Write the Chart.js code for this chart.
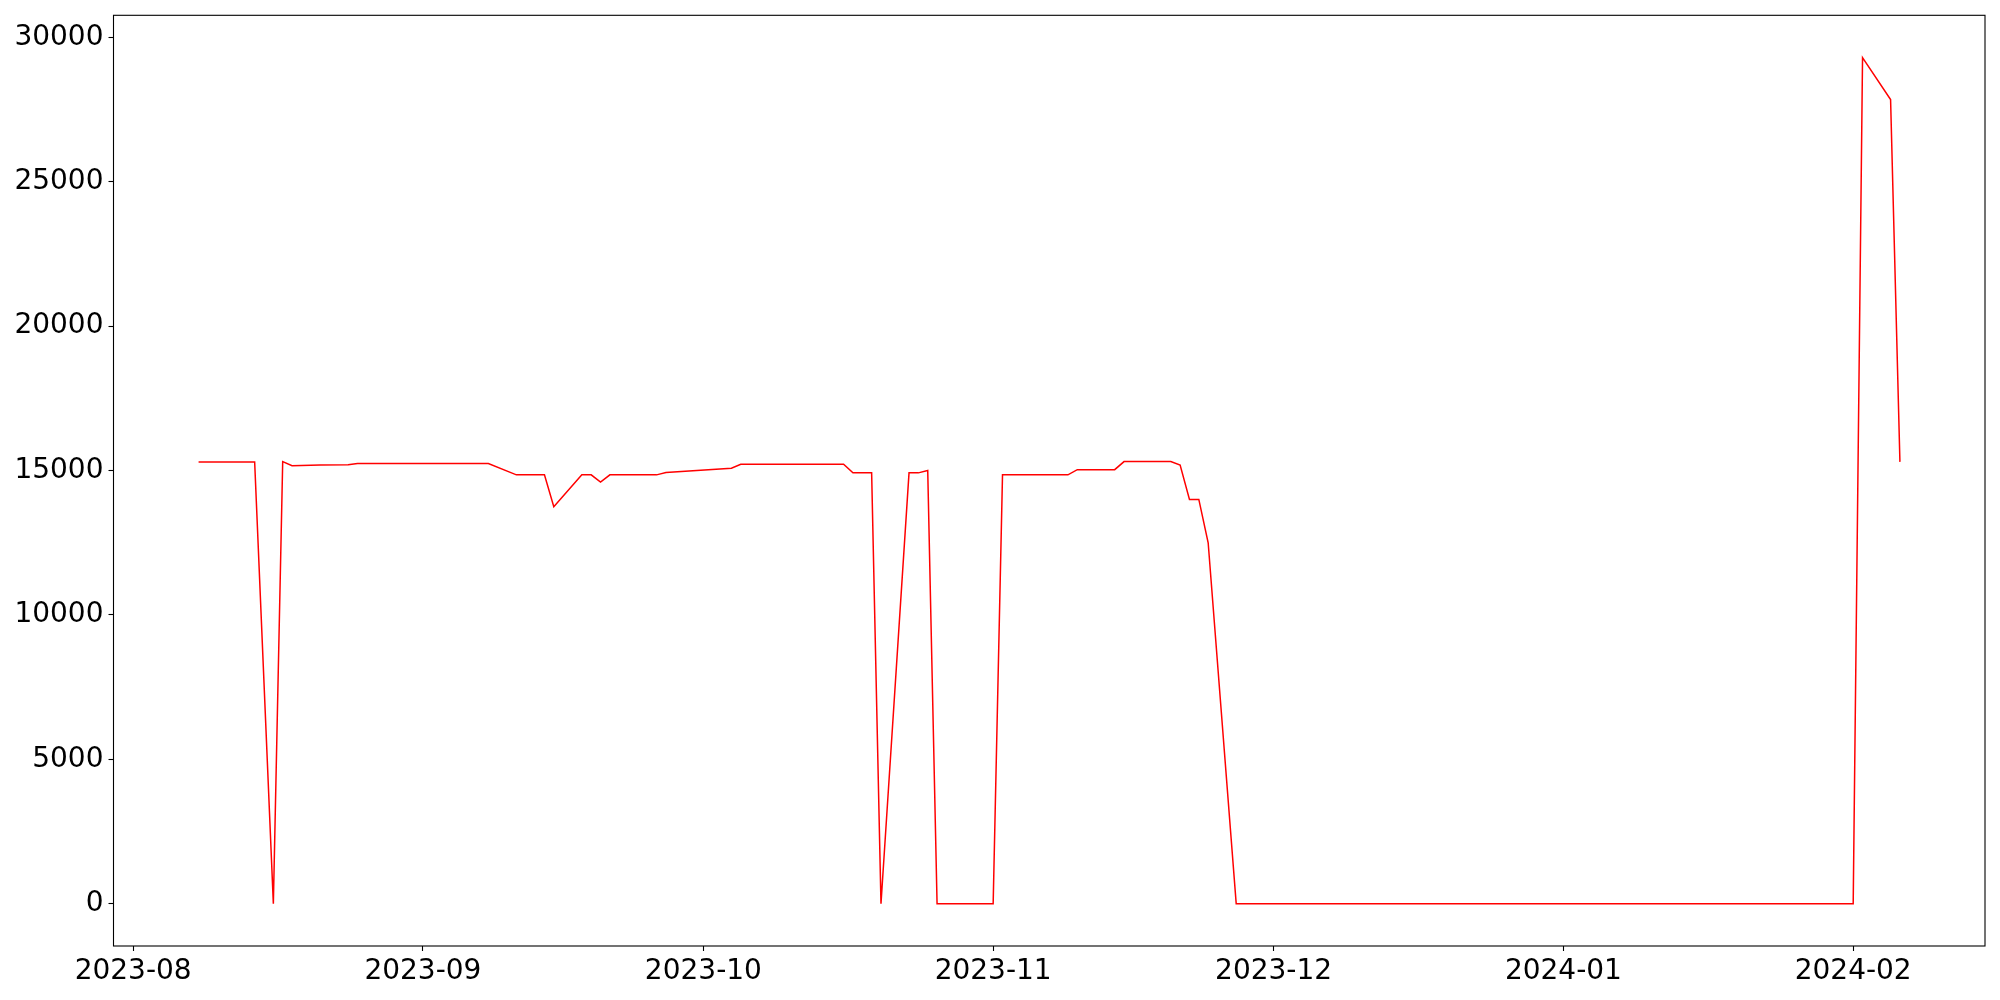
<!DOCTYPE html>
<html>
<head>
<meta charset="utf-8">
<script src="https://cdn.jsdelivr.net/npm/chart.js@4.4.0/dist/chart.umd.min.js"></script>
<style>
  body { margin: 0; background: #fff; }
  #wrap { width: 2000px; height: 1000px; position: relative; }
</style>
</head>
<body>
<div id="wrap"><canvas id="lineChart"></canvas></div>
<script>
// data
const dates = [
  "2023-08-08", "2023-08-14", "2023-08-16", "2023-08-17", "2023-08-18", "2023-08-21",
  "2023-08-24", "2023-08-25", "2023-09-08", "2023-09-11", "2023-09-14", "2023-09-15",
  "2023-09-18", "2023-09-19", "2023-09-20", "2023-09-21", "2023-09-26", "2023-09-27",
  "2023-10-04", "2023-10-05", "2023-10-16", "2023-10-17", "2023-10-19", "2023-10-20",
  "2023-10-23", "2023-10-24", "2023-10-25", "2023-10-26", "2023-11-01", "2023-11-02",
  "2023-11-09", "2023-11-10", "2023-11-14", "2023-11-15", "2023-11-20", "2023-11-21",
  "2023-11-22", "2023-11-23", "2023-11-24", "2023-11-27", "2024-02-01", "2024-02-02",
  "2024-02-05", "2024-02-06"
];
const values = [
  15300, 15300, 0, 15310, 15170, 15190,
  15200, 15240, 15240, 14850, 14850, 13750,
  14850, 14850, 14600, 14850, 14850, 14930,
  15080, 15220, 15220, 14920, 14920, 0,
  14920, 14920, 15000, 0, 0, 14850,
  14850, 15030, 15030, 15310, 15310, 15190,
  14000, 14000, 12500, 0, 0, 29300,
  27850, 15300
];
const xTickLabels = ["2023-08", "2023-09", "2023-10", "2023-11", "2023-12", "2024-01", "2024-02"];
const yTickValues = [0, 5000, 10000, 15000, 20000, 25000, 30000];

// days since 2023-08-01, so the x axis can be linear
const base = Date.UTC(2023, 7, 1);
function dayNum(s) {
  const p = s.split("-").map(Number);
  return (Date.UTC(p[0], p[1] - 1, p[2] || 1) - base) / 86400000;
}
const points = dates.map((d, i) => ({ x: dayNum(d), y: values[i] }));
const xTickValues = xTickLabels.map(dayNum);

// matplotlib-like frame around the plot area
const framePlugin = {
  id: "frame",
  afterDraw(chart) {
    const a = chart.chartArea;
    const ctx = chart.ctx;
    ctx.save();
    ctx.strokeStyle = "#000";
    ctx.lineWidth = 1.1;
    ctx.strokeRect(a.left, a.top, a.right - a.left, a.bottom - a.top);
    ctx.restore();
  }
};

const tickFont = { family: "DejaVu Sans", size: 28 };

new Chart(document.getElementById("lineChart").getContext("2d"), {
  type: "line",
  data: {
    datasets: [{
      data: points,
      borderColor: "#ff0000",
      borderWidth: 1.5,
      pointRadius: 0,
      fill: false,
      tension: 0
    }]
  },
  options: {
    responsive: true,
    maintainAspectRatio: false,
    animation: false,
    layout: { padding: { top: 15.3, right: 15, left: 0, bottom: 0 } },
    plugins: { legend: { display: false }, tooltip: { enabled: false } },
    scales: {
      x: {
        type: "linear",
        min: -2.1,
        max: 198.1,
        afterBuildTicks: scale => { scale.ticks = xTickValues.map(v => ({ value: v })); },
        afterFit: scale => {
          scale.height = 54;
          scale.paddingLeft = 0;
          scale.paddingRight = 0;
        },
        ticks: {
          color: "#000",
          font: tickFont,
          padding: 4,
          maxRotation: 0,
          autoSkip: false,
          callback: v => xTickLabels[xTickValues.indexOf(v)]
        },
        grid: { drawOnChartArea: false, tickLength: 5, color: "#000", tickWidth: 1.1 },
        border: { display: false }
      },
      y: {
        type: "linear",
        min: -1465,
        max: 30765,
        afterBuildTicks: scale => { scale.ticks = yTickValues.map(v => ({ value: v })); },
        afterFit: scale => {
          scale.width = 113.5;
          scale.paddingTop = 0;
          scale.paddingBottom = 0;
        },
        ticks: {
          color: "#000",
          font: tickFont,
          padding: 5,
          callback: v => String(v)
        },
        grid: { drawOnChartArea: false, tickLength: 5, color: "#000", tickWidth: 1.1 },
        border: { display: false }
      }
    }
  },
  plugins: [framePlugin]
});
</script>
</body>
</html>
